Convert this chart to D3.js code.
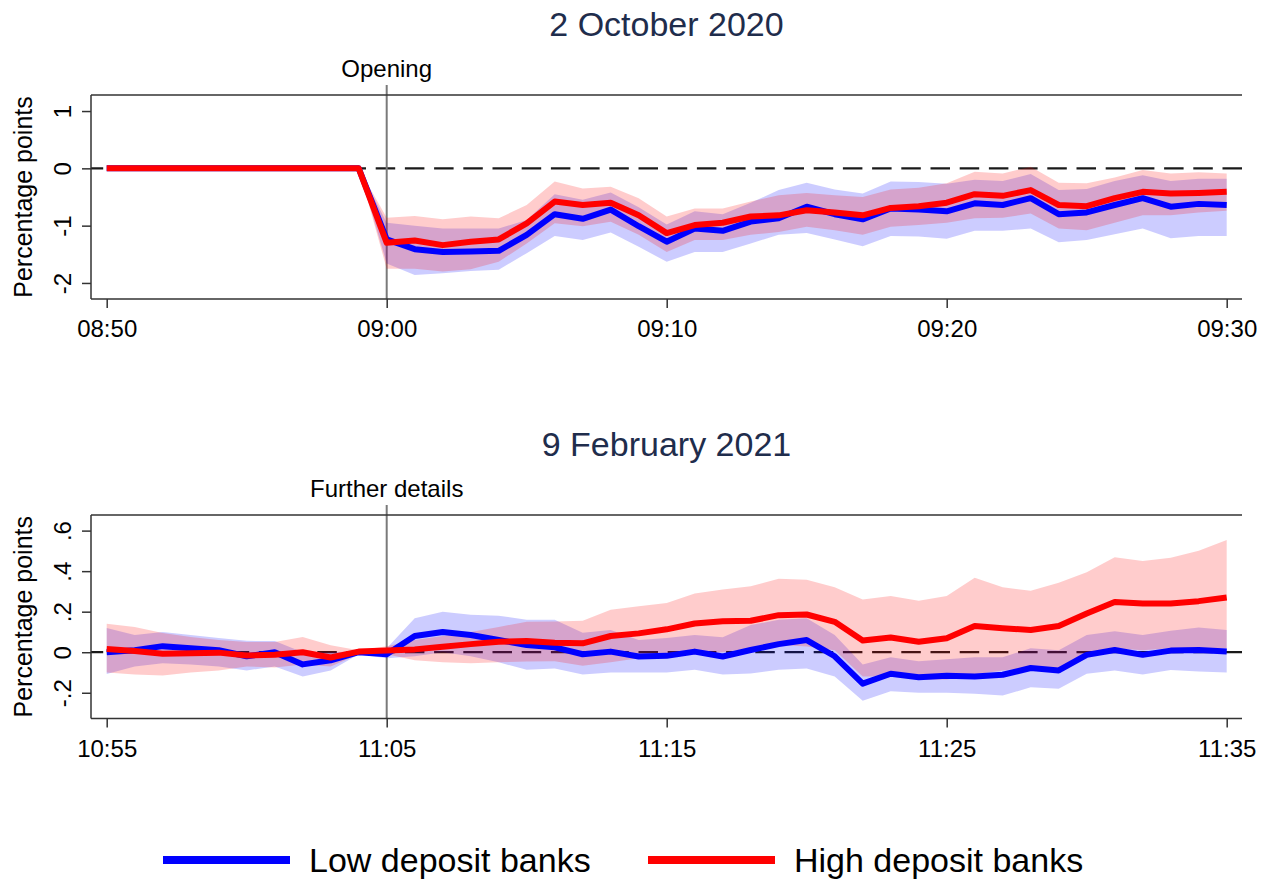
<!DOCTYPE html>
<html>
<head>
<meta charset="utf-8">
<script src="https://cdn.jsdelivr.net/npm/d3@7"></script>
<style>
  body { margin: 0; background: #fff; }
  svg { display: block; font-family: "Liberation Sans", Arial, sans-serif; }
</style>
</head>
<body>
<svg id="chart" width="1272" height="879"></svg>
<script>
// 2 October 2020, one value per minute from 08:50
const octStart = "08:50";
const octTicks = ["08:50", "09:00", "09:10", "09:20", "09:30"];
const octYTicks = [-2, -1, 0, 1];
const octYLabels = ["-2", "-1", "0", "1"];
const octLow = [0, 0, 0, 0, 0, 0, 0, 0, 0, 0,
  -1.24, -1.41, -1.46, -1.45, -1.44, -1.16, -0.80, -0.88, -0.72, -1.01,
  -1.28, -1.05, -1.09, -0.93, -0.87, -0.67, -0.80, -0.89, -0.70, -0.72,
  -0.75, -0.61, -0.64, -0.52, -0.80, -0.77, -0.64, -0.52, -0.67, -0.62, -0.64];
const octLowLo = [0, 0, 0, 0, 0, 0, 0, 0, 0, 0,
  -1.66, -1.86, -1.83, -1.79, -1.77, -1.48, -1.18, -1.25, -1.12, -1.37,
  -1.63, -1.46, -1.46, -1.31, -1.16, -1.13, -1.24, -1.36, -1.18, -1.19,
  -1.23, -1.09, -1.09, -1.05, -1.29, -1.25, -1.15, -1.05, -1.22, -1.18, -1.18];
const octLowHi = [0, 0, 0, 0, 0, 0, 0, 0, 0, 0,
  -0.95, -1.00, -1.05, -1.05, -1.05, -0.90, -0.45, -0.55, -0.42, -0.68,
  -0.98, -0.75, -0.80, -0.60, -0.38, -0.25, -0.37, -0.44, -0.23, -0.24,
  -0.27, -0.20, -0.22, -0.10, -0.38, -0.36, -0.22, -0.12, -0.22, -0.18, -0.18];
const octHigh = [0, 0, 0, 0, 0, 0, 0, 0, 0, 0,
  -1.30, -1.26, -1.34, -1.28, -1.24, -0.96, -0.58, -0.64, -0.60, -0.82,
  -1.13, -0.99, -0.95, -0.84, -0.82, -0.73, -0.77, -0.82, -0.69, -0.66,
  -0.60, -0.45, -0.48, -0.38, -0.64, -0.66, -0.52, -0.41, -0.44, -0.43, -0.41];
const octHighLo = [0, 0, 0, 0, 0, 0, 0, 0, 0, 0,
  -1.75, -1.75, -1.80, -1.76, -1.63, -1.31, -0.96, -1.01, -0.93, -1.16,
  -1.46, -1.25, -1.25, -1.16, -1.11, -1.02, -1.08, -1.16, -1.02, -0.99,
  -0.95, -0.87, -0.86, -0.79, -1.05, -1.08, -0.95, -0.82, -0.82, -0.77, -0.74];
const octHighHi = [0, 0, 0, 0, 0, 0, 0, 0, 0, 0,
  -0.86, -0.83, -0.89, -0.84, -0.87, -0.64, -0.23, -0.35, -0.32, -0.52,
  -0.84, -0.70, -0.70, -0.58, -0.47, -0.43, -0.47, -0.50, -0.37, -0.34,
  -0.26, -0.06, -0.09, 0.03, -0.25, -0.26, -0.16, -0.03, -0.09, -0.07, -0.09];

// 9 February 2021, one value per minute from 10:55
const febStart = "10:55";
const febTicks = ["10:55", "11:05", "11:15", "11:25", "11:35"];
const febYTicks = [-0.2, 0, 0.2, 0.4, 0.6];
const febYLabels = ["-.2", "0", ".2", ".4", ".6"];
const febLow = [0.00, 0.01, 0.03, 0.02, 0.01, -0.02, 0.00, -0.06, -0.04, 0.00,
  -0.01, 0.08, 0.10, 0.085, 0.06, 0.036, 0.024, -0.01, 0.003, -0.021,
  -0.018, 0.003, -0.021, 0.011, 0.04, 0.06, -0.02, -0.155, -0.106, -0.123,
  -0.116, -0.12, -0.111, -0.078, -0.09, -0.013, 0.011, -0.013, 0.008, 0.011, 0.003];
const febLowLo = [-0.108, -0.07, -0.054, -0.06, -0.07, -0.09, -0.07, -0.12, -0.09, -0.01,
  -0.03, -0.02, 0.00, -0.02, -0.05, -0.087, -0.08, -0.11, -0.10, -0.10,
  -0.10, -0.087, -0.11, -0.105, -0.087, -0.08, -0.12, -0.24, -0.193, -0.20,
  -0.20, -0.205, -0.214, -0.173, -0.18, -0.106, -0.09, -0.11, -0.088, -0.095, -0.10];
const febLowHi = [0.12, 0.085, 0.10, 0.085, 0.07, 0.056, 0.055, 0.00, 0.00, 0.005,
  0.02, 0.167, 0.20, 0.185, 0.18, 0.16, 0.16, 0.096, 0.11, 0.06,
  0.07, 0.085, 0.074, 0.134, 0.16, 0.167, 0.085, -0.06, -0.025, -0.045,
  -0.035, -0.025, -0.025, 0.02, 0.01, 0.085, 0.104, 0.085, 0.106, 0.122, 0.11];
const febHigh = [0.016, 0.006, -0.008, -0.005, -0.002, -0.016, -0.013, 0.00, -0.026, 0.003,
  0.008, 0.014, 0.027, 0.04, 0.052, 0.055, 0.047, 0.044, 0.08, 0.093,
  0.113, 0.142, 0.153, 0.155, 0.183, 0.186, 0.15, 0.058, 0.073, 0.052,
  0.069, 0.129, 0.118, 0.11, 0.129, 0.191, 0.248, 0.24, 0.24, 0.252, 0.27];
const febHighLo = [-0.10, -0.11, -0.115, -0.10, -0.09, -0.07, -0.075, -0.06, -0.07, -0.01,
  -0.01, -0.04, -0.05, -0.055, -0.05, -0.046, -0.045, -0.067, -0.05, -0.03,
  -0.02, -0.01, 0.00, 0.02, 0.036, 0.028, 0.01, -0.12, -0.12, -0.135,
  -0.135, -0.11, -0.09, -0.075, -0.09, -0.01, 0.02, 0.01, 0.02, 0.02, 0.02];
const febHighHi = [0.14, 0.125, 0.095, 0.075, 0.06, 0.05, 0.05, 0.075, 0.035, 0.01,
  0.03, 0.06, 0.08, 0.10, 0.125, 0.15, 0.152, 0.155, 0.21, 0.227,
  0.243, 0.29, 0.31, 0.325, 0.363, 0.358, 0.32, 0.26, 0.277, 0.254,
  0.277, 0.368, 0.32, 0.303, 0.343, 0.395, 0.469, 0.45, 0.466, 0.501, 0.554];

const seriesNames = ["Low deposit banks", "High deposit banks"];
const seriesColors = ["#0000ff", "#ff0000"];
const bandColors = ["rgba(0,0,255,0.2)", "rgba(255,0,0,0.2)"];

const parse = d3.timeParse("%H:%M");
const svg = d3.select("#chart");

const panels = [
  {
    title: "2 October 2020", event: "Opening", eventTime: "09:00",
    start: octStart, ticks: octTicks, yTicks: octYTicks, yLabels: octYLabels,
    yDomain: [-2.28, 1.28], top: 95, bottom: 299, titleY: 36,
    series: [
      { mid: octLow, lo: octLowLo, hi: octLowHi },
      { mid: octHigh, lo: octHighLo, hi: octHighHi }
    ]
  },
  {
    title: "9 February 2021", event: "Further details", eventTime: "11:05",
    start: febStart, ticks: febTicks, yTicks: febYTicks, yLabels: febYLabels,
    yDomain: [-0.327, 0.677], top: 515, bottom: 718.5, titleY: 456,
    series: [
      { mid: febLow, lo: febLowLo, hi: febLowHi },
      { mid: febHigh, lo: febHighLo, hi: febHighHi }
    ]
  }
];

const left = 91, right = 1242;

panels.forEach(p => {
  const t0 = parse(p.start);
  const n = p.series[0].mid.length;
  const times = d3.range(n).map(i => d3.timeMinute.offset(t0, i));

  const x = d3.scaleTime()
    .domain([t0, times[n - 1]])
    .range([106.7, 1226.7]);
  const y = d3.scaleLinear()
    .domain(p.yDomain)
    .range([p.bottom, p.top]);

  const g = svg.append('g');

  g.append('text')
    .attr('x', 666.5).attr('y', p.titleY)
    .attr('text-anchor', 'middle')
    .style('font-size', '34px')
    .attr('fill', '#1f2d4c')
    .text(p.title);

  // zero reference and event marker sit under the bands
  // drawn right to left so the dash pattern ends flush with the frame
  g.append('line')
    .attr('x1', right).attr('x2', left)
    .attr('y1', y(0)).attr('y2', y(0))
    .attr('stroke', '#1a1a1a').attr('stroke-width', 2.2)
    .attr('stroke-dasharray', '19.5,9.7');

  const ex = x(parse(p.eventTime));
  g.append('line')
    .attr('x1', ex).attr('x2', ex)
    .attr('y1', p.top - 10).attr('y2', p.bottom)
    .attr('stroke', '#7a7a7a').attr('stroke-width', 2);
  g.append('text')
    .attr('x', ex).attr('y', p.top - 18)
    .attr('text-anchor', 'middle')
    .style('font-size', '24px')
    .text(p.event);

  const area = d3.area()
    .x((d, i) => x(times[i]))
    .y0(d => y(d[0]))
    .y1(d => y(d[1]));
  const line = d3.line()
    .x((d, i) => x(times[i]))
    .y(d => y(d));

  p.series.forEach((s, k) => {
    g.append('path')
      .datum(s.lo.map((v, i) => [v, s.hi[i]]))
      .attr('d', area)
      .attr('fill', bandColors[k]);
  });
  p.series.forEach((s, k) => {
    g.append('path')
      .datum(s.mid)
      .attr('d', line)
      .attr('fill', 'none')
      .attr('stroke', seriesColors[k])
      .attr('stroke-width', 6)
      .attr('stroke-linejoin', 'round');
  });

  // frame: top rule, left and bottom axes
  g.append('line')
    .attr('x1', left).attr('x2', right)
    .attr('y1', p.top).attr('y2', p.top)
    .attr('stroke', '#333').attr('stroke-width', 1.5);

  const xAxis = g.append('g')
    .attr('transform', `translate(0,${p.bottom})`)
    .call(d3.axisBottom(x)
      .tickValues(p.ticks.map(parse))
      .tickFormat(d3.timeFormat('%H:%M'))
      .tickSize(9).tickPadding(12));
  xAxis.select('.domain').attr('d', `M${left},0H${right}`);

  const yAxis = g.append('g')
    .attr('transform', `translate(${left},0)`)
    .call(d3.axisLeft(y)
      .tickValues(p.yTicks)
      .tickFormat((d, i) => p.yLabels[i])
      .tickSize(9));
  yAxis.select('.domain').attr('d', `M0,${p.top}V${p.bottom}`);
  yAxis.selectAll('.tick text')
    .attr('x', null).attr('dy', null)
    .attr('text-anchor', 'middle')
    .attr('transform', 'translate(-20,0) rotate(-90)');

  [xAxis, yAxis].forEach(a => {
    a.select('.domain').attr('stroke', '#333').attr('stroke-width', 1.5);
    a.selectAll('.tick line').attr('stroke', '#333').attr('stroke-width', 1.5);
    a.selectAll('.tick text')
      .attr('fill', '#000')
      .style('font-size', '24px')
      .style('font-family', '"Liberation Sans", Arial, sans-serif');
  });

  g.append('text')
    .attr('transform', `translate(32,${(p.top + p.bottom) / 2}) rotate(-90)`)
    .attr('text-anchor', 'middle')
    .style('font-size', '25px')
    .text('Percentage points');
});

// legend
const legendX = [163, 648];
const legend = svg.selectAll('.legend')
  .data(seriesNames)
  .enter()
  .append('g')
  .attr('class', 'legend')
  .attr('transform', (d, i) => `translate(${legendX[i]},860)`);

legend.append('line')
  .attr('x1', 0).attr('x2', 127)
  .attr('stroke', (d, i) => seriesColors[i])
  .attr('stroke-width', 8);

legend.append('text')
  .attr('x', 146)
  .attr('y', 12)
  .style('font-size', '34px')
  .text(d => d);
</script>
</body>
</html>
